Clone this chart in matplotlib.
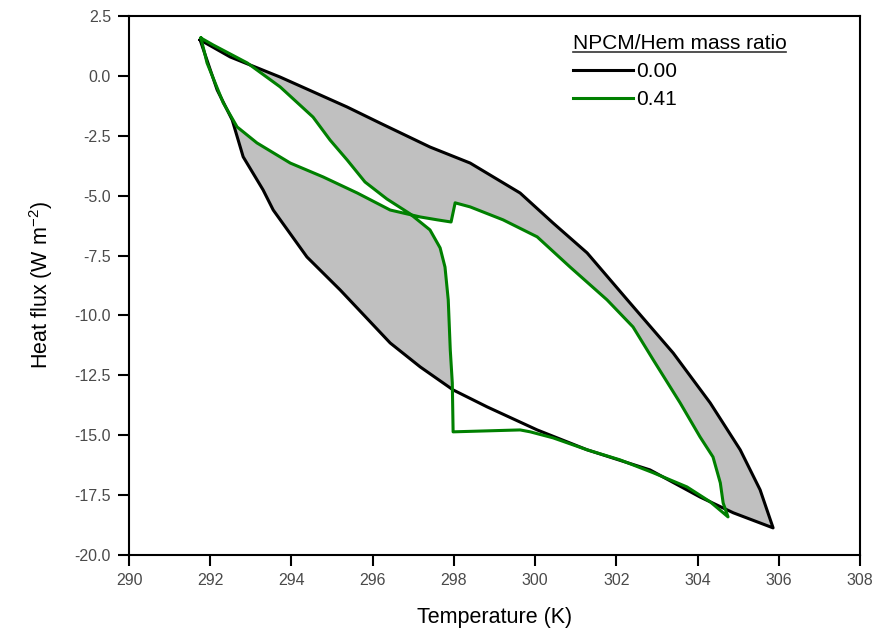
import numpy as np
import matplotlib
matplotlib.use("Agg")
import matplotlib.pyplot as plt
from matplotlib.ticker import FormatStrFormatter, MultipleLocator
from matplotlib.lines import Line2D

plt.rcParams['font.family'] = ['Liberation Sans', 'DejaVu Sans']
plt.rcParams['mathtext.fontset'] = 'custom'
plt.rcParams['mathtext.rm'] = 'Liberation Sans'
plt.rcParams['axes.unicode_minus'] = False

# NPCM/Hem = 0.00 loop (upper branch then lower branch back)
t_000 = [291.75, 292.49, 293.72, 295.37, 296.18, 297.41, 298.40, 299.63, 300.44,
         301.28, 302.27, 303.40, 304.31, 305.05, 305.54, 305.86,
         304.88, 304.06, 302.83, 301.28, 300.05, 298.82, 297.98, 297.17, 296.43,
         295.20, 294.38, 293.55, 293.30, 292.81, 292.54, 292.17, 292.00, 291.75]
q_000 = [1.50, 0.79, -0.05, -1.30, -1.97, -2.97, -3.64, -4.89, -6.14,
         -7.39, -9.35, -11.57, -13.65, -15.61, -17.28, -18.87,
         -18.24, -17.58, -16.45, -15.61, -14.78, -13.82, -13.11, -12.15, -11.15,
         -8.94, -7.56, -5.60, -4.76, -3.38, -1.84, -0.59, 0.25, 1.50]

# NPCM/Hem = 0.41 loop
t_041 = [291.77, 292.07, 292.91, 293.72, 294.53, 294.95, 295.37, 295.81, 296.35, 296.92,
         297.41, 297.66, 297.78, 297.86, 297.91, 297.96, 297.98,
         299.63, 299.88, 300.44, 301.28, 302.09, 302.91, 303.74, 304.31, 304.75,
         304.63, 304.56, 304.38, 304.06, 303.57, 302.91, 302.41, 301.77, 300.86, 300.05,
         299.21, 298.40, 298.03, 297.93, 297.59, 297.17,
         296.43, 295.62, 294.78, 293.97, 293.15, 292.66, 292.32, 291.92, 291.77]
q_041 = [1.58, 1.29, 0.54, -0.46, -1.72, -2.68, -3.51, -4.43, -5.14, -5.76,
         -6.43, -7.18, -7.98, -9.35, -11.44, -12.82, -14.86,
         -14.78, -14.86, -15.11, -15.61, -16.03, -16.57, -17.16, -17.78, -18.41,
         -17.83, -16.99, -15.91, -15.07, -13.65, -11.86, -10.48, -9.35, -7.98, -6.72,
         -6.01, -5.47, -5.30, -6.10, -6.01, -5.89,
         -5.60, -4.89, -4.22, -3.64, -2.80, -2.13, -1.13, 0.54, 1.58]

ratios = ['0.00', '0.41']
colors = ['black', '#008000']

fig = plt.figure(figsize=(8.78, 6.39), dpi=100)
ax = fig.add_axes([0.147, 0.1315, 0.8325, 0.8435])

# gray band = inside the 0.00 loop but outside the 0.41 loop
ax.fill(t_000, q_000, color='#c0c0c0', lw=0, zorder=1)
ax.fill(t_041, q_041, color='white', lw=0, zorder=2)
ax.plot(t_000, q_000, color=colors[0], lw=2.2, zorder=3)
ax.plot(t_041, q_041, color=colors[1], lw=2.2, zorder=4)

ax.set_xlim(290, 308)
ax.set_ylim(-20, 2.5)
ax.xaxis.set_major_locator(MultipleLocator(2))
ax.yaxis.set_major_locator(MultipleLocator(2.5))
ax.yaxis.set_major_formatter(FormatStrFormatter('%.1f'))

for s in ax.spines.values():
    s.set_linewidth(1.5)
ax.tick_params(direction='out', length=8, width=1.5, labelsize=11.5,
               labelcolor='#4a4a4a', top=False, right=False, pad=5)

ax.set_xlabel('Temperature (K)', fontsize=15.5, labelpad=14)
ax.set_ylabel(r'Heat flux (W m$^{-2}$)', fontsize=15.5, labelpad=14)

handles = [Line2D([], [], color=c, lw=2.2) for c in colors]
leg = ax.legend(handles, ratios, loc='upper left', bbox_to_anchor=(0.607, 0.966),
                frameon=False, fontsize=15, handlelength=2.9, handletextpad=0.15,
                labelspacing=0.42, borderaxespad=0, borderpad=0,
                title='NPCM/Hem mass ratio', title_fontsize=15, alignment='left')

# underline the legend title
fig.canvas.draw()
bb = leg.get_title().get_window_extent().transformed(fig.transFigure.inverted())
fig.add_artist(Line2D([bb.x0, bb.x1], [bb.y0 + 0.002, bb.y0 + 0.002],
                      transform=fig.transFigure, color='#333333', lw=1.2))

fig.savefig('out.png', dpi=100)
